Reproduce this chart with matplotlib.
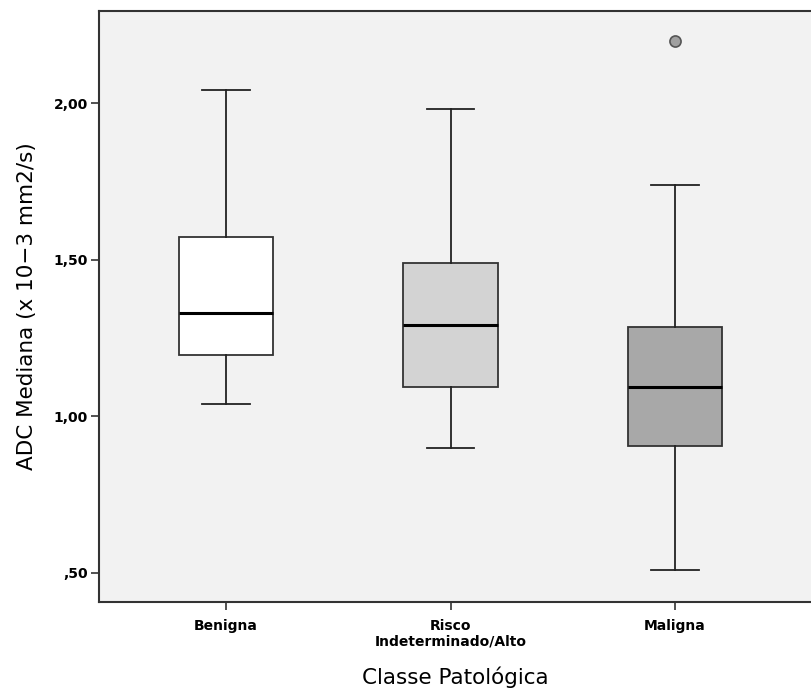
import matplotlib.pyplot as plt
import numpy as np

# dados (ADC mediana, x 10-3 mm2/s)
categorias = ['Benigna', 'Risco\nIndeterminado/Alto', 'Maligna']
whisker_baixo = [1.04, 0.90, 0.51]
q1 = [1.196, 1.094, 0.906]
mediana = [1.331, 1.292, 1.094]
q3 = [1.574, 1.490, 1.286]
whisker_alto = [2.043, 1.982, 1.740]
outliers = [[], [], [2.20]]
cores = ['#ffffff', '#d3d3d3', '#a8a8a8']

stats = []
for i in range(len(categorias)):
    stats.append(dict(whislo=whisker_baixo[i], q1=q1[i], med=mediana[i],
                      q3=q3[i], whishi=whisker_alto[i], fliers=outliers[i]))

fig = plt.figure(figsize=(8.12, 6.93), dpi=100)
ax = fig.add_axes([99/812, 91/693, 713/812, 591/693])
ax.set_facecolor('#f2f2f2')

pos = [1, 2, 3]
bp = ax.bxp(stats, positions=pos, widths=0.42, patch_artist=True,
            boxprops=dict(edgecolor='#333333', linewidth=1.3),
            medianprops=dict(color='black', linewidth=2.2),
            whiskerprops=dict(color='#222222', linewidth=1.3),
            capprops=dict(color='#222222', linewidth=1.3),
            capwidths=0.21,
            flierprops=dict(marker='o', markerfacecolor='#a0a0a0',
                            markeredgecolor='#555555', markersize=8,
                            markeredgewidth=1.2))
for patch, c in zip(bp['boxes'], cores):
    patch.set_facecolor(c)

ax.set_xlim(0.434, 3.61)
ax.set_ylim(0.407, 2.2955)
ax.set_yticks([0.5, 1.0, 1.5, 2.0])
ax.set_yticklabels([',50', '1,00', '1,50', '2,00'], fontsize=10, fontweight='bold')
ax.set_xticks(pos)
ax.set_xticklabels(categorias, fontsize=10, fontweight='bold', linespacing=1.15)
ax.tick_params(axis='both', length=6, width=1.2, color='#333333')
ax.tick_params(axis='x', pad=6)
ax.tick_params(axis='y', pad=2)

for s in ['left', 'bottom', 'top']:
    ax.spines[s].set_linewidth(1.5)
    ax.spines[s].set_color('#333333')
ax.spines['right'].set_visible(False)

ax.set_xlabel('Classe Patológica', fontsize=15.5, labelpad=13)
ax.set_ylabel('ADC Mediana (x 10\u22123 mm2/s)', fontsize=15.5, labelpad=12)

plt.savefig('out.png', dpi=100)
